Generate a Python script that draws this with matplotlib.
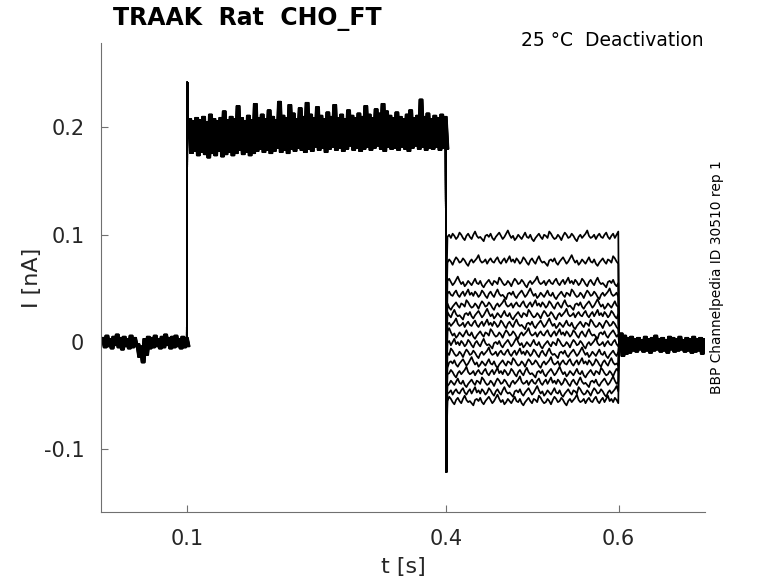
#!/usr/bin/env python3
"""TRAAK deactivation current traces (BBP Channelpedia style plot)."""

import numpy as np
import matplotlib
matplotlib.use("Agg")
import matplotlib.pyplot as plt  # noqa: E402

plt.rcParams["font.family"] = ["DejaVu Sans"]
plt.rcParams["axes.unicode_minus"] = False

# --- data (currents in nA, time in s) --------------------------------------

# noise envelope of the pre-pulse baseline, 1e-3 nA, sampled every 4 ms from 1 ms
pre_upper = [4, 6, 3, 5, 7, 4, 5, 3, 6, 4, -2, -4, 3, 5, 4, 6, 3, 5, 7, 4, 5, 6, 3, 5, 4]
pre_lower = [-5, -4, -6, -3, -5, -7, -4, -6, -5, -4, -14, -19, -12, -6, -5, -4,
             -6, -5, -3, -6, -5, -4, -6, -5, -4]

# activation step (0.1 - 0.4 s), envelope in 1e-3 nA, every 4 ms from 101 ms
step_peak = 0.242
step_upper = [208, 206, 209, 207, 210, 205, 212, 208, 206, 209,
              215, 207, 210, 208, 220, 209, 206, 211, 207, 222,
              209, 212, 208, 216, 210, 207, 224, 211, 209, 221,
              213, 208, 218, 210, 223, 212, 209, 219, 211, 208,
              214, 210, 221, 209, 212, 208, 216, 211, 209, 213,
              210, 220, 212, 209, 217, 213, 222, 215, 211, 209,
              214, 210, 208, 212, 216, 209, 211, 226, 210, 213,
              208, 211, 209, 212, 210]
step_lower = [176, 178, 174, 177, 175, 172, 176, 174, 178, 173,
              175, 177, 174, 176, 179, 175, 177, 174, 176, 178,
              180, 177, 179, 176, 178, 181, 177, 179, 176, 180,
              178, 181, 179, 177, 180, 178, 182, 179, 181, 177,
              180, 182, 179, 181, 178, 180, 183, 179, 181, 178,
              180, 182, 179, 181, 183, 180, 178, 182, 180, 181,
              179, 182, 180, 178, 181, 183, 180, 182, 179, 181,
              180, 182, 179, 181, 180]

# deactivation steps (0.4 - 0.6 s): steady level of each trace
deact_levels = [0.098, 0.075, 0.055, 0.044, 0.034, 0.025, 0.016, 0.007,
                -0.002, -0.011, -0.020, -0.029, -0.038, -0.047, -0.055]
tail_peak = -0.121
# wiggle along a trace, 1e-3 nA, every 2 ms from 401.5 ms
deact_wiggle = [0, 2, -1, 3, 1, -2, 0, 4, 2, -1,
                -3, 1, 3, 0, -2, 2, 5, 1, -1, 0,
                -2, -4, 1, 2, 0, 3, -1, -3, 0, 2,
                4, 1, -2, 0, 3, 6, 2, -1, 1, -3,
                -1, 2, 0, -2, 1, 4, 0, -1, 2, -2,
                -4, -1, 1, 3, 0, -2, 2, 1, -1, 5,
                3, 0, -2, -1, 2, 0, -3, 1, 4, 2,
                -1, 0, 3, 1, -2, -4, 0, 2, -1, 1,
                3, 6, 1, -1, 0, 2, -2, 1, 3, 0,
                -1, 2, 4, 0, -2, 1, 3, -1, 2, 5]
wiggle_shift = [0, 37, 71, 13, 52, 88, 24, 66, 5, 43, 79, 30, 61, 17, 94]

# post-pulse baseline (0.6 - 0.7 s), 1e-3 nA, every 4 ms from 601 ms
post_upper = [8, 6, 4, 5, 3, 4, 2, 5, 3, 4, 6, 3, 4, 2, 5, 4, 3, 5, 2, 4, 3, 5, 3, 4, 3]
post_lower = [-13, -11, -10, -8, -9, -7, -9, -8, -10, -8, -7, -9, -8, -10, -7,
              -9, -8, -7, -9, -8, -10, -9, -8, -11, -9]

y_ticks = [-0.1, 0, 0.1, 0.2]
y_tick_labels = ["-0.1", "0", "0.1", "0.2"]
x_ticks = [0.1, 0.4, 0.6]
x_tick_labels = ["0.1", "0.4", "0.6"]

DT = 0.004  # envelope sample spacing


def zigzag(t0, upper, lower, dt=DT):
    """Interleave upper/lower envelope samples into one jagged trace."""
    t = []
    v = []
    for i, (u, lo) in enumerate(zip(upper, lower)):
        t += [t0 + i * dt, t0 + i * dt + dt / 2]
        v += [u / 1000.0, lo / 1000.0]
    return t, v


def main():
    fig = plt.figure(figsize=(7.78, 5.83), dpi=100)
    ax = fig.add_axes([0.1298, 0.1218, 0.7764, 0.8044])

    lw = 1.25
    k = "black"
    n = len(deact_levels)
    t_dea = np.linspace(0.4015, 0.5995, len(deact_wiggle))
    wig = np.array(deact_wiggle) / 1000.0

    # one sweep per deactivation level; sweeps are sampled slightly staggered
    for i, (level, shift) in enumerate(zip(deact_levels, wiggle_shift)):
        off = i * DT / n
        t_pre, v_pre = zigzag(0.001 + off, pre_upper, pre_lower)
        t_stp, v_stp = zigzag(0.101 + off, step_upper, step_lower)
        t_band = [0.0] + t_pre + [0.0995, 0.1, 0.1006] + t_stp + [0.3995]
        v_band = [0.0] + v_pre + [0.0, step_peak, 0.200] + v_stp + [0.193]

        vals = level + np.roll(wig, shift)
        t_d = [0.4003, 0.4010] + list(t_dea)
        v_d = [tail_peak, level - 0.02] + list(vals)

        t_post, v_post = zigzag(0.601 + off, post_upper, post_lower)
        t_all = t_band + t_d + [0.6003] + t_post
        v_all = v_band + v_d + [0.0] + v_post
        ax.plot(t_all, v_all, color=k, lw=lw)

    ax.set_xlim(0.0, 0.7)
    ax.set_ylim(-0.1584, 0.2787)
    ax.set_xticks(x_ticks)
    ax.set_xticklabels(x_tick_labels)
    ax.set_yticks(y_ticks)
    ax.set_yticklabels(y_tick_labels)

    for side in ("top", "right"):
        ax.spines[side].set_visible(False)
    for side in ("left", "bottom"):
        ax.spines[side].set_color("#707070")
        ax.spines[side].set_linewidth(0.8)
    ax.tick_params(direction="in", length=5, width=0.8, color="#707070",
                   labelsize=15, labelcolor="#262626", pad=12)

    ax.set_xlabel("t [s]", fontsize=16, color="#262626", labelpad=6)
    ax.set_ylabel("I [nA]", fontsize=16, color="#262626", labelpad=1)

    fig.text(0.145, 0.968, "TRAAK  Rat  CHO_FT", fontsize=17, fontweight="bold",
             ha="left", va="center", color="black")
    fig.text(0.904, 0.930, "25 \u00b0C  Deactivation", fontsize=13.5,
             ha="right", va="center", color="black")
    fig.text(0.921, 0.525, "BBP Channelpedia ID 30510 rep 1", fontsize=9.9,
             rotation=90, ha="center", va="center", color="black")

    fig.savefig("out.png", dpi=100)


if __name__ == "__main__":
    main()
